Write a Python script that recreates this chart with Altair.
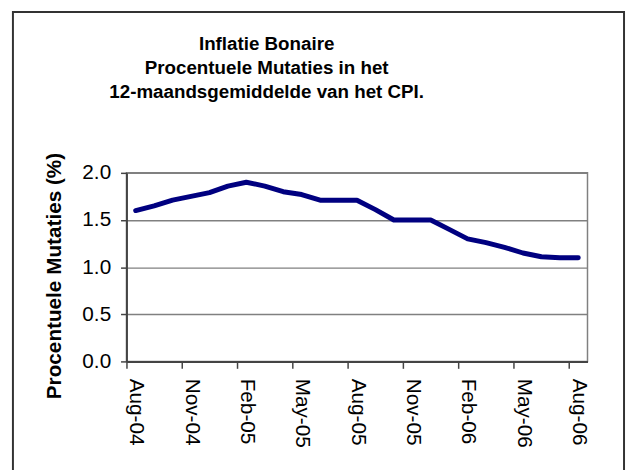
import altair as alt
import pandas as pd

months = ["Aug-04", "Sep-04", "Oct-04", "Nov-04", "Dec-04", "Jan-05", "Feb-05",
          "Mar-05", "Apr-05", "May-05", "Jun-05", "Jul-05", "Aug-05", "Sep-05",
          "Oct-05", "Nov-05", "Dec-05", "Jan-06", "Feb-06", "Mar-06", "Apr-06",
          "May-06", "Jun-06", "Jul-06", "Aug-06"]
values = [1.6, 1.65, 1.71, 1.75, 1.79, 1.86, 1.9, 1.86, 1.8, 1.77, 1.71, 1.71,
          1.71, 1.61, 1.5, 1.5, 1.5, 1.4, 1.3, 1.26, 1.21, 1.15, 1.11, 1.1, 1.1]
y_ticks = [0.0, 0.5, 1.0, 1.5, 2.0]
title_lines = ["Inflatie Bonaire", "Procentuele Mutaties in het",
               "12-maandsgemiddelde van het CPI."]
y_title = "Procentuele Mutaties (%)"

df = pd.DataFrame({"idx": list(range(len(months))), "month": months, "value": values})

n = len(months)
tick_vals = [i - 0.5 for i in range(0, n, 3)]
label_expr = "[" + ",".join(f"'{m}'" for m in months) + "][round(datum.value + 0.5)]"

FONT = "Liberation Sans"
W, H = 467, 191
cat_w = W / n

one = pd.DataFrame({"a": [0]})

frame = alt.Chart(one).mark_rect(
    fill="white", fillOpacity=0, stroke="#333333", strokeWidth=2
).encode(
    x=alt.value(-115), x2=alt.value(W + 37), y=alt.value(-163), y2=alt.value(H + 130)
)

title = alt.Chart(one).mark_text(
    font=FONT, fontSize=19, fontWeight="bold", color="black",
    align="center", baseline="alphabetic", lineHeight=24
).encode(
    x=alt.value(142), y=alt.value(-124), text=alt.value(title_lines)
)

line = alt.Chart(df).mark_line(
    color="#000080", strokeWidth=5, strokeCap="round", strokeJoin="round"
).encode(
    x=alt.X("idx:Q", scale=alt.Scale(domain=[-0.5, n - 0.5], nice=False, zero=False),
            axis=alt.Axis(values=tick_vals, labelExpr=label_expr, labelAngle=90,
                          labelOffset=cat_w / 2, tickSize=7, labelPadding=10,
                          labelFontSize=21, labelFont=FONT, labelColor="black",
                          labelOverlap=False, labelFlush=False, grid=False,
                          domainColor="#444444", domainWidth=2, tickColor="#444444",
                          tickWidth=1.5, title=None)),
    y=alt.Y("value:Q", scale=alt.Scale(domain=[0, 2], nice=False),
            axis=alt.Axis(values=y_ticks, format=".1f", tickSize=6, labelPadding=10,
                          labelFontSize=21, labelFont=FONT, labelColor="black",
                          grid=True, gridColor="#808080", gridWidth=1.5,
                          domainColor="#444444", domainWidth=2, tickColor="#444444",
                          tickWidth=1.5, title=y_title, titleFont=FONT,
                          titleFontSize=21, titleFontWeight="bold", titleColor="black",
                          titleAngle=-90, titleX=-67, titleY=104,
                          titleAlign="center", titleBaseline="alphabetic")),
)

chart = alt.layer(frame, title, line).properties(
    width=W, height=H,
    autosize=alt.AutoSizeParams(type="none"),
    padding={"left": 120, "top": 164, "right": 39, "bottom": 107},
).configure_view(stroke="#808080", strokeWidth=1.5)

chart.save("out.html", embed_options={"renderer": "svg", "actions": False})
